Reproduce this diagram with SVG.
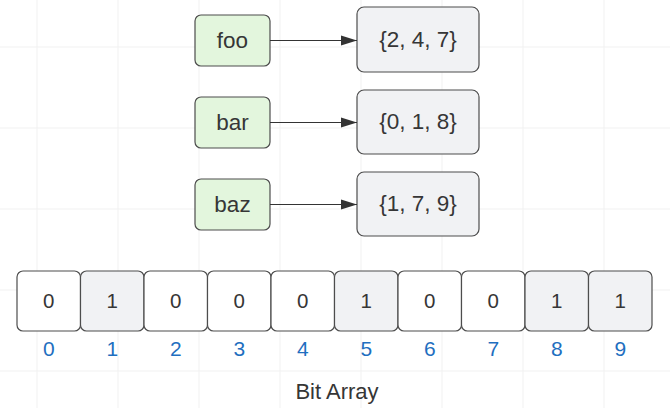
<svg xmlns="http://www.w3.org/2000/svg" width="670" height="408" viewBox="0 0 670 408">
  <defs>
    <style>
      text { font-family: "Liberation Sans", Arial, sans-serif; fill: #363636; text-anchor: middle; dominant-baseline: central; }
      .key rect { fill: #e3f6dd; stroke: #4d4d4d; stroke-width: 1.2; }
      .set rect { fill: #f1f2f4; stroke: #4d4d4d; stroke-width: 1.2; }
      .lbl { font-size: 22.5px; }
      .cell rect { stroke: #4d4d4d; stroke-width: 1.2; }
      .c0 rect { fill: #ffffff; }
      .c1 rect { fill: #f1f2f4; }
      .cell text { font-size: 20.5px; }
      .idx { font-size: 21px; fill: #1f6fc0; }
      .title { font-size: 22px; }
      .grid line { stroke: #f1f1f1; stroke-width: 1; }
      .conn line { stroke: #333; stroke-width: 1.2; }
    </style>
    <marker id="arr" markerWidth="16" markerHeight="12" refX="16" refY="6" orient="auto" markerUnits="userSpaceOnUse">
      <path d="M0,1 L16,6 L0,11 Z" fill="#333"/>
    </marker>
  </defs>
  <rect width="670" height="408" fill="#ffffff"/>
  <g class="grid">
    <line x1="37" y1="0" x2="37" y2="408"/>
    <line x1="118" y1="0" x2="118" y2="408"/>
    <line x1="199" y1="0" x2="199" y2="408"/>
    <line x1="280" y1="0" x2="280" y2="408"/>
    <line x1="361" y1="0" x2="361" y2="408"/>
    <line x1="442" y1="0" x2="442" y2="408"/>
    <line x1="523" y1="0" x2="523" y2="408"/>
    <line x1="604" y1="0" x2="604" y2="408"/>
    <line x1="0" y1="47" x2="670" y2="47"/>
    <line x1="0" y1="128" x2="670" y2="128"/>
    <line x1="0" y1="209" x2="670" y2="209"/>
    <line x1="0" y1="290" x2="670" y2="290"/>
    <line x1="0" y1="371" x2="670" y2="371"/>
  </g>

  <g id="foo" class="key"><rect x="195" y="15" width="75" height="51" rx="6"/><text class="lbl" x="232.5" y="40">foo</text></g>
  <g id="bar" class="key"><rect x="195" y="97" width="75" height="51" rx="6"/><text class="lbl" x="232.5" y="122">bar</text></g>
  <g id="baz" class="key"><rect x="195" y="179" width="75" height="51" rx="6"/><text class="lbl" x="232.5" y="204">baz</text></g>

  <g id="set-foo" class="set"><rect x="357" y="7" width="122" height="65" rx="7"/><text class="lbl" x="418" y="39">{2, 4, 7}</text></g>
  <g id="set-bar" class="set"><rect x="357" y="90" width="122" height="64" rx="7"/><text class="lbl" x="418" y="121.5">{0, 1, 8}</text></g>
  <g id="set-baz" class="set"><rect x="357" y="172" width="122" height="64" rx="7"/><text class="lbl" x="418" y="203.5">{1, 7, 9}</text></g>

  <g class="conn">
    <line x1="270" y1="40.5" x2="357" y2="40.5" marker-end="url(#arr)"/>
    <line x1="270" y1="122.5" x2="357" y2="122.5" marker-end="url(#arr)"/>
    <line x1="270" y1="204.5" x2="357" y2="204.5" marker-end="url(#arr)"/>
  </g>

  <g id="bit0" class="cell c0"><rect x="17" y="271" width="63.5" height="60" rx="6"/><text x="48.75" y="300">0</text></g>
  <g id="bit1" class="cell c1"><rect x="80.5" y="271" width="63.5" height="60" rx="6"/><text x="112.25" y="300">1</text></g>
  <g id="bit2" class="cell c0"><rect x="144" y="271" width="63.5" height="60" rx="6"/><text x="175.75" y="300">0</text></g>
  <g id="bit3" class="cell c0"><rect x="207.5" y="271" width="63.5" height="60" rx="6"/><text x="239.25" y="300">0</text></g>
  <g id="bit4" class="cell c0"><rect x="271" y="271" width="63.5" height="60" rx="6"/><text x="302.75" y="300">0</text></g>
  <g id="bit5" class="cell c1"><rect x="334.5" y="271" width="63.5" height="60" rx="6"/><text x="366.25" y="300">1</text></g>
  <g id="bit6" class="cell c0"><rect x="398" y="271" width="63.5" height="60" rx="6"/><text x="429.75" y="300">0</text></g>
  <g id="bit7" class="cell c0"><rect x="461.5" y="271" width="63.5" height="60" rx="6"/><text x="493.25" y="300">0</text></g>
  <g id="bit8" class="cell c1"><rect x="525" y="271" width="63.5" height="60" rx="6"/><text x="556.75" y="300">1</text></g>
  <g id="bit9" class="cell c1"><rect x="588.5" y="271" width="63.5" height="60" rx="6"/><text x="620.25" y="300">1</text></g>

  <g id="indices">
    <text class="idx" x="48.75" y="348">0</text>
    <text class="idx" x="112.25" y="348">1</text>
    <text class="idx" x="175.75" y="348">2</text>
    <text class="idx" x="239.25" y="348">3</text>
    <text class="idx" x="302.75" y="348">4</text>
    <text class="idx" x="366.25" y="348">5</text>
    <text class="idx" x="429.75" y="348">6</text>
    <text class="idx" x="493.25" y="348">7</text>
    <text class="idx" x="556.75" y="348">8</text>
    <text class="idx" x="620.25" y="348">9</text>
  </g>
  <text id="title" class="title" x="337" y="391">Bit Array</text>
</svg>
